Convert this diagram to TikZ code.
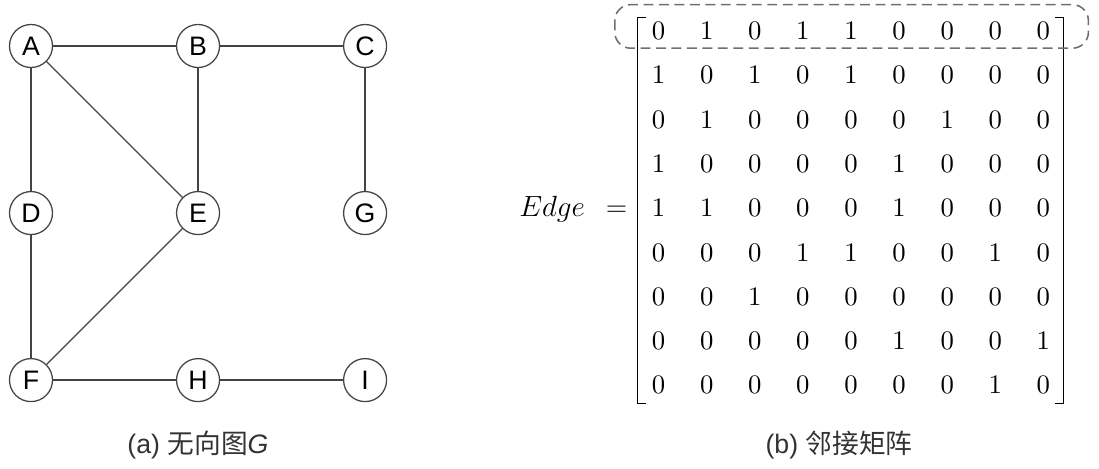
\documentclass[tikz,border=0pt]{standalone}
\usepackage{fontspec}
\newfontfamily\arialfont{Liberation Sans}
\newfontfamily\cjk{Noto Sans CJK SC}
\newfontfamily\digitfont{lmroman10-regular.otf}
\usepackage{xcolor}
\usetikzlibrary{positioning,matrix,calc}

\definecolor{linegray}{HTML}{444444}
\definecolor{dashgray}{HTML}{6E6E6E}
\definecolor{capgray}{HTML}{333333}

\begin{document}
\begin{tikzpicture}[x=0.025cm, y=-0.025cm,
  vertex/.style={draw=linegray, circle, line width=0.9pt, minimum size=1.075cm,
                 inner sep=0pt, font=\arialfont\fontsize{19}{21}\selectfont},
  link/.style={draw=linegray, line width=0.9pt},
  cell/.style={minimum width=1.202cm, minimum height=1.1cm, inner sep=0pt,
               font=\digitfont\fontsize{19}{21}\selectfont},
  bracket/.style={draw=black, line width=0.8pt},
  rowbox/.style={draw=dashgray, line width=1.1pt, dash pattern=on 7pt off 4pt,
                 rounded corners=0.4cm},
  captext/.style={font=\arialfont\fontsize{19}{23}\selectfont, text=capgray},
  node distance=4.175cm, on grid
]
  \useasboundingbox (0,0) rectangle (1099,468);

  % undirected graph
  \node[vertex] (A) at (31,46) {A};
  \node[vertex, right=of A] (B) {B};
  \node[vertex, right=of B] (C) {C};
  \node[vertex, below=of A] (D) {D};
  \node[vertex, below=of B] (E) {E};
  \node[vertex, below=of C] (G) {G};
  \node[vertex, below=of D] (F) {F};
  \node[vertex, below=of E] (H) {H};
  \node[vertex, below=of G] (I) {I};

  \foreach \u/\v in {A/B,B/C,A/D,A/E,B/E,C/G,D/F,E/F,F/H,H/I}
    \draw[link] (\u) -- (\v);

  \node[captext] (capa) at (198,445) {(a) {\cjk 无向图}\textit{G}};

  % adjacency matrix
  \matrix (adj) at (851,208) [matrix of nodes, nodes={cell}, inner sep=0pt,
                              column sep=0pt, row sep=0pt] {
    0 & 1 & 0 & 1 & 1 & 0 & 0 & 0 & 0 \\
    1 & 0 & 1 & 0 & 1 & 0 & 0 & 0 & 0 \\
    0 & 1 & 0 & 0 & 0 & 0 & 1 & 0 & 0 \\
    1 & 0 & 0 & 0 & 0 & 1 & 0 & 0 & 0 \\
    1 & 1 & 0 & 0 & 0 & 1 & 0 & 0 & 0 \\
    0 & 0 & 0 & 1 & 1 & 0 & 0 & 1 & 0 \\
    0 & 0 & 1 & 0 & 0 & 0 & 0 & 0 & 0 \\
    0 & 0 & 0 & 0 & 0 & 1 & 0 & 0 & 1 \\
    0 & 0 & 0 & 0 & 0 & 0 & 0 & 1 & 0 \\
  };

  \draw[bracket] ($(adj.north west)+(11.5,9)$) -- ($(adj.north west)+(3.5,9)$)
                 -- ($(adj.south west)+(3.5,-4)$) -- ++(8,0);
  \draw[bracket] ($(adj.north east)+(-12.3,9)$) -- ($(adj.north east)+(-4.3,9)$)
                 -- ($(adj.south east)+(-4.3,-4)$) -- ++(-8,0);

  \node[anchor=base east, inner sep=0pt, font=\fontsize{20}{22}\selectfont] (lbl)
    at ($(adj-5-1.base west)+(-7,0)$) {$Edge\;\,=$};

  \draw[rowbox] ($(adj-1-1.north west)+(-19.5,-4)$) rectangle ($(adj-1-9.south east)+(20.7,-5)$);

  \node[captext] (capb) at (839,445) {(b) {\cjk 邻接矩阵}};
\end{tikzpicture}
\end{document}
